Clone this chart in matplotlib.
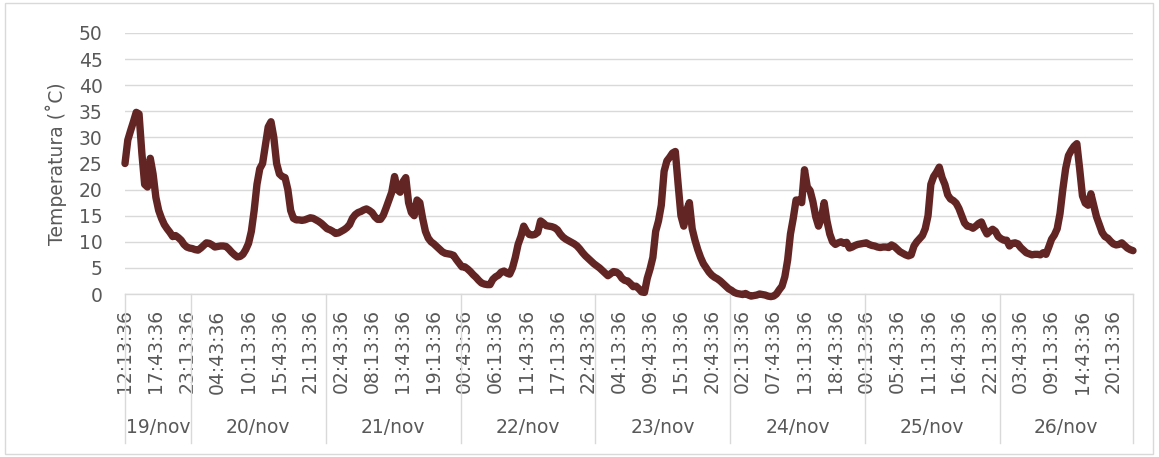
import matplotlib
matplotlib.use("Agg")
import matplotlib.pyplot as plt
import matplotlib.transforms as mtransforms
from matplotlib.patches import Rectangle
from datetime import datetime, timedelta

# Temperature readings every 30 min, 19/nov 12:13:36 -> 26/nov 23:43:36
t_19 = [25, 29.5, 31.3, 33, 34.8, 34.5, 27, 21, 20.5, 26, 23, 18.5, 16, 14.5, 13.3, 12.5,
        11.8, 11, 11.2, 10.8, 10.3, 9.5, 9, 8.8]
t_20 = [8.7, 8.5, 8.4, 8.8, 9.3, 9.8, 9.7, 9.4, 9.0, 9.1, 9.2, 9.2, 9.1, 8.6, 8.0, 7.5,
        7.1, 7.2, 7.6, 8.5, 9.7, 12, 16, 21, 24, 25, 28.5, 32, 33, 30, 25, 23,
        22.5, 22.3, 20, 16, 14.5, 14.2, 14.2, 14.1, 14.2, 14.4, 14.6, 14.5, 14.2, 13.9, 13.5, 13]
t_21 = [12.5, 12.3, 12, 11.6, 11.7, 12, 12.3, 12.7, 13.3, 14.5, 15.2, 15.6, 15.8, 16.1, 16.3, 16,
        15.6, 14.8, 14.3, 14.3, 15.1, 16.5, 18, 19.5, 22.5, 20, 19.5, 21.5, 22.3, 17.5, 15.6, 15,
        18, 17.5, 14.5, 12, 10.7, 10, 9.6, 9.1, 8.6, 8.1, 7.8, 7.7, 7.6, 7.4, 6.6, 5.9]
t_22 = [5.2, 5.2, 4.8, 4.3, 3.7, 3.2, 2.6, 2.1, 1.9, 1.8, 1.8, 2.8, 3.3, 3.6, 4.2, 4.4,
        4, 3.8, 5, 7, 9.5, 11, 13, 12, 11.4, 11.3, 11.4, 11.8, 14, 13.6, 13.1, 13,
        12.9, 12.7, 12.3, 11.5, 10.9, 10.5, 10.2, 9.9, 9.6, 9.2, 8.6, 7.9, 7.3, 6.8, 6.3, 5.8]
t_23 = [5.4, 5, 4.5, 4, 3.5, 3.9, 4.3, 4.2, 3.8, 3, 2.6, 2.5, 2, 1.4, 1.5, 1,
        0.4, 0.3, 3, 4.8, 7, 12, 14, 17, 23.5, 25.5, 26.2, 27, 27.3, 21, 15, 13,
        16, 17.5, 12.5, 10.3, 8.5, 7, 5.8, 5, 4.2, 3.6, 3.2, 2.9, 2.5, 2, 1.5, 1]
t_24 = [0.7, 0.3, 0.1, 0, -0.1, 0.1, -0.2, -0.4, -0.3, -0.2, 0, -0.1, -0.2, -0.4, -0.5, -0.4,
        0, 0.8, 1.5, 3.3, 6.5, 11.5, 14.5, 18, 18, 17.5, 23.8, 20.5, 19.8, 17.7, 14.8, 13,
        14.5, 17.5, 14, 11.5, 10, 9.5, 9.8, 10, 9.7, 9.9, 8.8, 9, 9.3, 9.5, 9.6, 9.7]
t_25 = [9.8, 9.5, 9.3, 9.2, 9, 8.9, 9, 9, 8.9, 9.4, 9.1, 8.6, 8.1, 7.8, 7.5, 7.3,
        7.5, 9.2, 10, 10.6, 11.2, 12.5, 15, 21, 22.5, 23.3, 24.3, 22.3, 21, 19, 18.2, 17.9,
        17.4, 16.4, 15, 13.6, 13, 12.9, 12.6, 13, 13.5, 13.8, 12.5, 11.5, 12, 12.4, 12, 11]
t_26 = [10.6, 10.3, 10.3, 9.2, 9.7, 9.8, 9.6, 8.9, 8.4, 7.9, 7.7, 7.5, 7.6, 7.6, 7.5, 7.9,
        7.6, 9, 10.5, 11.3, 12.5, 15.4, 20, 24, 26.5, 27.5, 28.3, 28.8, 24, 18.8, 17.4, 17,
        19.2, 17, 14.8, 13.3, 11.8, 11, 10.7, 10.1, 9.6, 9.4, 9.5, 9.8, 9.3, 8.8, 8.5, 8.3]

day_labels = ["19/nov", "20/nov", "21/nov", "22/nov", "23/nov", "24/nov", "25/nov", "26/nov"]
day_series = [t_19, t_20, t_21, t_22, t_23, t_24, t_25, t_26]

temps = [v for d in day_series for v in d]
start = datetime(2000, 11, 19, 12, 13, 36)
times = [start + timedelta(minutes=30 * i) for i in range(len(temps))]
time_labels = [t.strftime("%H:%M:%S") for t in times]
label_step = 11

gray = "#595959"
grid = "#d9d9d9"
line_col = "#632523"
fs = 13.5

fig = plt.figure(figsize=(11.59, 4.57), dpi=100)
ax = fig.add_axes([125 / 1159, 1 - 294 / 457, 1008 / 1159, 261 / 457])

x = list(range(len(temps)))
ax.plot(x, temps, color=line_col, lw=5.3, solid_joinstyle="round",
        solid_capstyle="round", clip_on=False, zorder=3)

ax.set_xlim(0, len(temps) - 1)
ax.set_ylim(0, 50)
ax.set_yticks(range(0, 51, 5))
ax.yaxis.grid(True, color=grid, lw=1.0)
ax.set_axisbelow(True)
for s in ["top", "right", "left"]:
    ax.spines[s].set_visible(False)
ax.spines["bottom"].set_color(grid)
ax.spines["bottom"].set_linewidth(1.0)

ax.set_xticks(x[::label_step])
ax.set_xticklabels(time_labels[::label_step], rotation=90)
ax.tick_params(axis="x", length=0, pad=11, labelsize=fs, labelcolor=gray)
ax.tick_params(axis="y", length=0, pad=16, labelsize=fs, labelcolor=gray)

ax.set_ylabel("Temperatura (˚C)", fontsize=fs, color=gray)
ax.yaxis.set_label_coords(-0.0575, 0.5)

# second level of the category axis: days
trans = mtransforms.blended_transform_factory(ax.transData, ax.transAxes)
bounds = [0]
n = 0
for d in day_series[:-1]:
    n += len(d)
    bounds.append(n - 0.5)
bounds.append(len(temps) - 1)
for b in bounds:
    ax.plot([b, b], [0, -0.571], transform=trans, color=grid, lw=1.0, clip_on=False)
for i, lab in enumerate(day_labels):
    ax.text((bounds[i] + bounds[i + 1]) / 2, -0.513, lab, transform=trans,
            ha="center", va="center", fontsize=fs, color=gray)

# chart area border
fig.patches.append(Rectangle((5 / 1159, 1 - 454 / 457), 1148 / 1159, 451 / 457,
                             transform=fig.transFigure, fill=False,
                             edgecolor=grid, lw=1.0))

fig.savefig("out.png", dpi=100, facecolor="white")
